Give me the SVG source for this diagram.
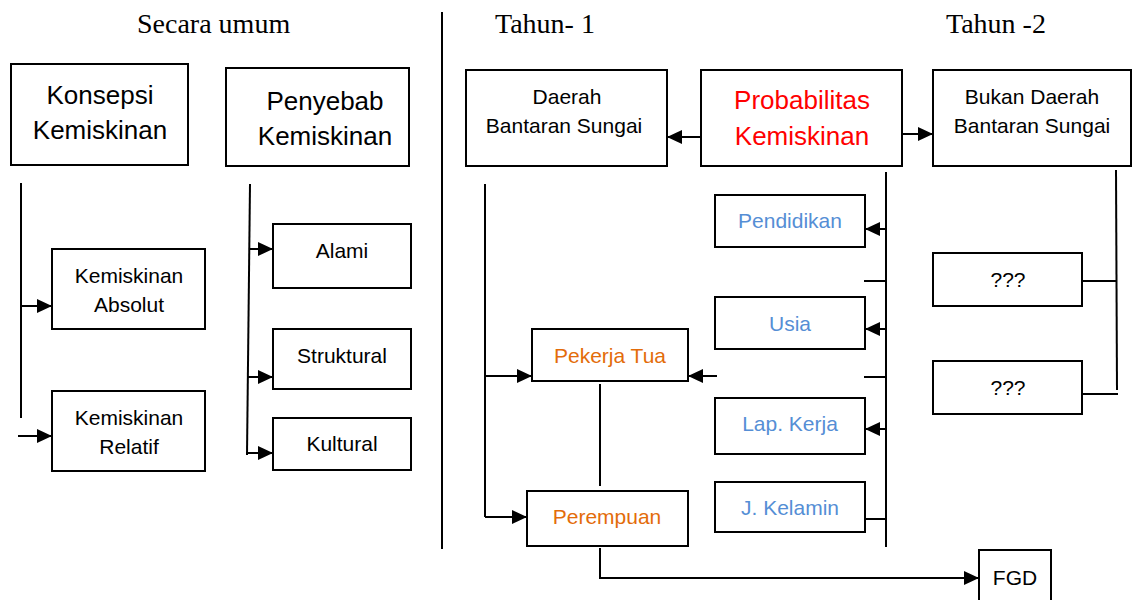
<svg xmlns="http://www.w3.org/2000/svg" width="1135" height="600" viewBox="0 0 1135 600">
<style>
.box{fill:#fff;stroke:#000;stroke-width:2}
.ln{fill:none;stroke:#000;stroke-width:2}
.hd{font-family:"Liberation Serif",serif;font-size:28px;fill:#000}
.t{font-family:"Liberation Sans",Arial,sans-serif;font-size:21px;fill:#000;text-anchor:middle}
.big{font-size:26px}
.red{fill:#ff0000}
.org{fill:#e36c0a}
.blu{fill:#558ed5}
</style>
<defs>
<marker id="ah" markerUnits="userSpaceOnUse" markerWidth="15" markerHeight="14" viewBox="0 0 15 14" refX="15" refY="7" orient="auto">
<path d="M0,0 L15,7 L0,14 z" fill="#000"/>
</marker>
</defs>
<rect width="1135" height="600" fill="#fff"/>
<text class="hd" x="137" y="33">Secara umum</text>
<text class="hd" x="495" y="33">Tahun- 1</text>
<text class="hd" x="946" y="33">Tahun -2</text>
<g id="connectors">
<line class="ln" x1="442" y1="12" x2="442" y2="549"/>
<line class="ln" x1="21" y1="183" x2="21" y2="418"/>
<line class="ln" x1="21" y1="306" x2="52" y2="306" marker-end="url(#ah)"/>
<line class="ln" x1="18" y1="436" x2="52" y2="436" marker-end="url(#ah)"/>
<line class="ln" x1="250" y1="184" x2="247" y2="455"/>
<line class="ln" x1="249" y1="249" x2="273" y2="249" marker-end="url(#ah)"/>
<line class="ln" x1="247" y1="377" x2="273" y2="377" marker-end="url(#ah)"/>
<line class="ln" x1="247" y1="453" x2="273" y2="453" marker-end="url(#ah)"/>
<line class="ln" x1="701" y1="137" x2="667" y2="137" marker-end="url(#ah)"/>
<line class="ln" x1="902" y1="134" x2="933" y2="134" marker-end="url(#ah)"/>
<line class="ln" x1="485" y1="184" x2="485" y2="517"/>
<line class="ln" x1="485" y1="376" x2="532" y2="376" marker-end="url(#ah)"/>
<line class="ln" x1="485" y1="517" x2="527" y2="517" marker-end="url(#ah)"/>
<line class="ln" x1="600" y1="384" x2="600" y2="486"/>
<polyline class="ln" points="600,548 600,578 979,578" marker-end="url(#ah)"/>
<line class="ln" x1="886" y1="172" x2="886" y2="547"/>
<line class="ln" x1="886" y1="229" x2="865" y2="229" marker-end="url(#ah)"/>
<line class="ln" x1="864" y1="281" x2="886" y2="281"/>
<line class="ln" x1="886" y1="329" x2="865" y2="329" marker-end="url(#ah)"/>
<line class="ln" x1="864" y1="377" x2="886" y2="377"/>
<line class="ln" x1="717" y1="376" x2="688" y2="376" marker-end="url(#ah)"/>
<line class="ln" x1="886" y1="429" x2="865" y2="429" marker-end="url(#ah)"/>
<line class="ln" x1="865" y1="519" x2="886" y2="519"/>
<line class="ln" x1="1116" y1="170" x2="1117" y2="390"/>
<line class="ln" x1="1082" y1="281" x2="1116" y2="281"/>
<line class="ln" x1="1082" y1="394" x2="1118" y2="394"/>
</g>
<g id="konsepsi"><rect class="box" x="11" y="64" width="177" height="101"/><text class="t big" x="100" y="104">Konsepsi</text><text class="t big" x="100" y="139">Kemiskinan</text></g>
<g id="penyebab"><rect class="box" x="226" y="68" width="183" height="98"/><text class="t big" x="325" y="110">Penyebab</text><text class="t big" x="325" y="145">Kemiskinan</text></g>
<g id="absolut"><rect class="box" x="52" y="249" width="153" height="80"/><text class="t" x="129" y="283">Kemiskinan</text><text class="t" x="129" y="312">Absolut</text></g>
<g id="relatif"><rect class="box" x="52" y="391" width="153" height="80"/><text class="t" x="129" y="425">Kemiskinan</text><text class="t" x="129" y="454">Relatif</text></g>
<g id="alami"><rect class="box" x="273" y="224" width="138" height="64"/><text class="t" x="342" y="258">Alami</text></g>
<g id="struktural"><rect class="box" x="273" y="329" width="138" height="60"/><text class="t" x="342" y="363">Struktural</text></g>
<g id="kultural"><rect class="box" x="273" y="418" width="138" height="52"/><text class="t" x="342" y="451">Kultural</text></g>
<g id="daerah"><rect class="box" x="466" y="70" width="201" height="96"/><text class="t" x="567" y="104">Daerah</text><text class="t" x="564" y="133">Bantaran Sungai</text></g>
<g id="probabilitas"><rect class="box" x="701" y="70" width="201" height="96"/><text class="t big red" x="802" y="109">Probabilitas</text><text class="t big red" x="802" y="145">Kemiskinan</text></g>
<g id="bukan"><rect class="box" x="933" y="70" width="198" height="96"/><text class="t" x="1032" y="104">Bukan Daerah</text><text class="t" x="1032" y="133">Bantaran Sungai</text></g>
<g id="pendidikan"><rect class="box" x="715" y="195" width="150" height="52"/><text class="t blu" x="790" y="228">Pendidikan</text></g>
<g id="usia"><rect class="box" x="715" y="297" width="150" height="52"/><text class="t blu" x="790" y="331">Usia</text></g>
<g id="lapkerja"><rect class="box" x="715" y="398" width="150" height="56"/><text class="t blu" x="790" y="431">Lap. Kerja</text></g>
<g id="jkelamin"><rect class="box" x="715" y="482" width="150" height="50"/><text class="t blu" x="790" y="515">J. Kelamin</text></g>
<g id="pekerjatua"><rect class="box" x="532" y="329" width="156" height="52"/><text class="t org" x="610" y="363">Pekerja Tua</text></g>
<g id="perempuan"><rect class="box" x="527" y="491" width="161" height="55"/><text class="t org" x="607" y="524">Perempuan</text></g>
<g id="q1"><rect class="box" x="933" y="253" width="149" height="53"/><text class="t" x="1008" y="287">???</text></g>
<g id="q2"><rect class="box" x="933" y="361" width="149" height="53"/><text class="t" x="1008" y="395">???</text></g>
<g id="fgd"><rect class="box" x="979" y="550" width="72" height="60"/><text class="t" x="1015" y="585">FGD</text></g>
</svg>
